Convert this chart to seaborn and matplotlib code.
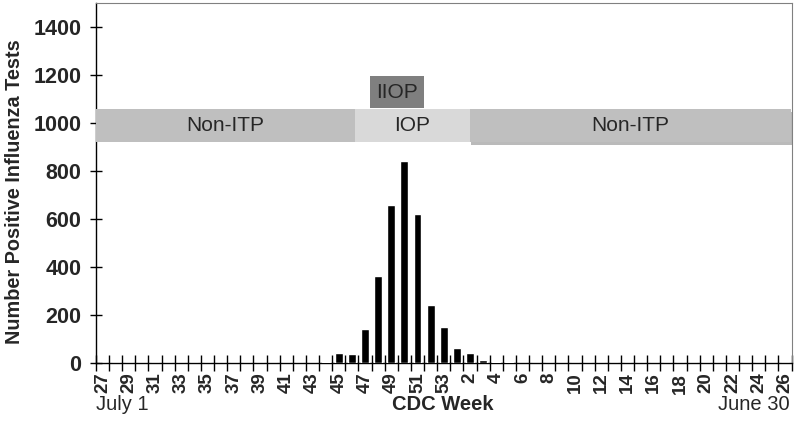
import numpy as np
import pandas as pd
import matplotlib
matplotlib.use("Agg")
import matplotlib.pyplot as plt
import matplotlib.patheffects as pe
from matplotlib.patches import Rectangle
import seaborn as sns

# ---- data ----
weeks = list(range(27, 54)) + list(range(1, 27))
week_labels = [str(w) for w in weeks]
counts = [0, 0, 0, 0, 0, 0, 0, 0, 0, 0, 0, 0, 0, 0, 0,      # 27-41
          2, 2, 4,                                          # 42-44
          43, 36, 143, 363, 658, 840, 620, 242, 150,        # 45-53
          64, 40, 11, 5, 3, 0, 2, 2, 2, 0, 2,               # 1-11
          0, 0, 0, 0, 0, 0, 0, 0, 0, 0, 0, 0, 0, 0, 0]      # 12-26
y_ticks = [0, 200, 400, 600, 800, 1000, 1200, 1400]
band_labels = ["Non-ITP", "IOP", "IIOP", "Non-ITP"]

sns.set_style("white")
plt.rcParams["font.family"] = ["Liberation Sans", "DejaVu Sans"]

fig = plt.figure(figsize=(8.01, 4.41), dpi=100)
ax = fig.add_axes([96 / 801, 1 - 363 / 441, (791.5 - 96) / 801, (363 - 2.5) / 441])

df = pd.DataFrame({"week": week_labels, "count": counts})
sns.barplot(data=df, x="week", y="count", order=week_labels, color="black",
            saturation=1, width=0.6, errorbar=None, ax=ax, zorder=3)

ax.set_xlim(-0.5, 52.5)
ax.set_ylim(0, 1500)
ax.set_xlabel("")
ax.set_ylabel("")

# x ticks at category boundaries, labels at every other category center
ax.set_xticks(np.arange(-0.5, 53, 1))
ax.set_xticklabels([])
ax.set_xticks(np.arange(0, 53, 2), minor=True)
ax.set_xticklabels(week_labels[::2], minor=True, rotation=90,
                   fontweight="bold", fontsize=13.5)
ax.tick_params(axis="x", which="major", direction="inout", length=12,
               width=1, color="black", bottom=True)
ax.tick_params(axis="x", which="minor", length=0, pad=7)

ax.set_yticks(y_ticks)
ax.set_yticklabels([str(v) for v in y_ticks], fontweight="bold", fontsize=15.5)
ax.tick_params(axis="y", which="major", direction="inout", length=9,
               width=1, color="black", left=True, pad=6)

for s in ["left", "bottom"]:
    ax.spines[s].set_color("black")
    ax.spines[s].set_linewidth(1.0)
for s in ["top", "right"]:
    ax.spines[s].set_color("#808080")
    ax.spines[s].set_linewidth(0.8)

# ---- period bands ----
y0, y1 = 920, 1058
left_band = Rectangle((-0.5, y0), 19.7, y1 - y0, facecolor="#bfbfbf",
                      edgecolor="none", zorder=6, clip_on=False)
iop_band = Rectangle((19.2, y0), 8.8, y1 - y0, facecolor="#d9d9d9",
                     edgecolor="none", zorder=6, clip_on=False)
iiop_band = Rectangle((20.4, 1062), 4.1, 131, facecolor="#7f7f7f",
                      edgecolor="none", zorder=6, clip_on=False)
right_band = Rectangle((28.0, y0), 24.45, y1 - y0, facecolor="#bfbfbf",
                       edgecolor="none", zorder=7, clip_on=False,
                       path_effects=[pe.SimplePatchShadow(offset=(0.6, -2.2),
                                                          shadow_rgbFace="#666666",
                                                          alpha=0.45),
                                     pe.Normal()])
for p in [left_band, iop_band, iiop_band, right_band]:
    ax.add_patch(p)

yc = (y0 + y1) / 2
ax.text(9.35, yc, band_labels[0], ha="center", va="center", fontsize=15, zorder=8)
ax.text(23.6, yc, band_labels[1], ha="center", va="center", fontsize=15, zorder=8)
ax.text(22.45, 1127, band_labels[2], ha="center", va="center", fontsize=15, zorder=8)
ax.text(40.25, yc, band_labels[3], ha="center", va="center", fontsize=15, zorder=8)

# ---- axis titles ----
fig.text(15 / 801, 1 - 191.5 / 441, "Number Positive Influenza Tests",
         rotation=90, ha="center", va="center", fontsize=14.3, fontweight="bold")
fig.text(443 / 801, 1 - 404 / 441, "CDC Week", ha="center", va="center",
         fontsize=14.5, fontweight="bold")
fig.text(96 / 801, 1 - 404 / 441, "July 1", ha="left", va="center", fontsize=14.5)
fig.text(790 / 801, 1 - 404 / 441, "June 30", ha="right", va="center", fontsize=14.5)

fig.savefig("out.png", dpi=100)
